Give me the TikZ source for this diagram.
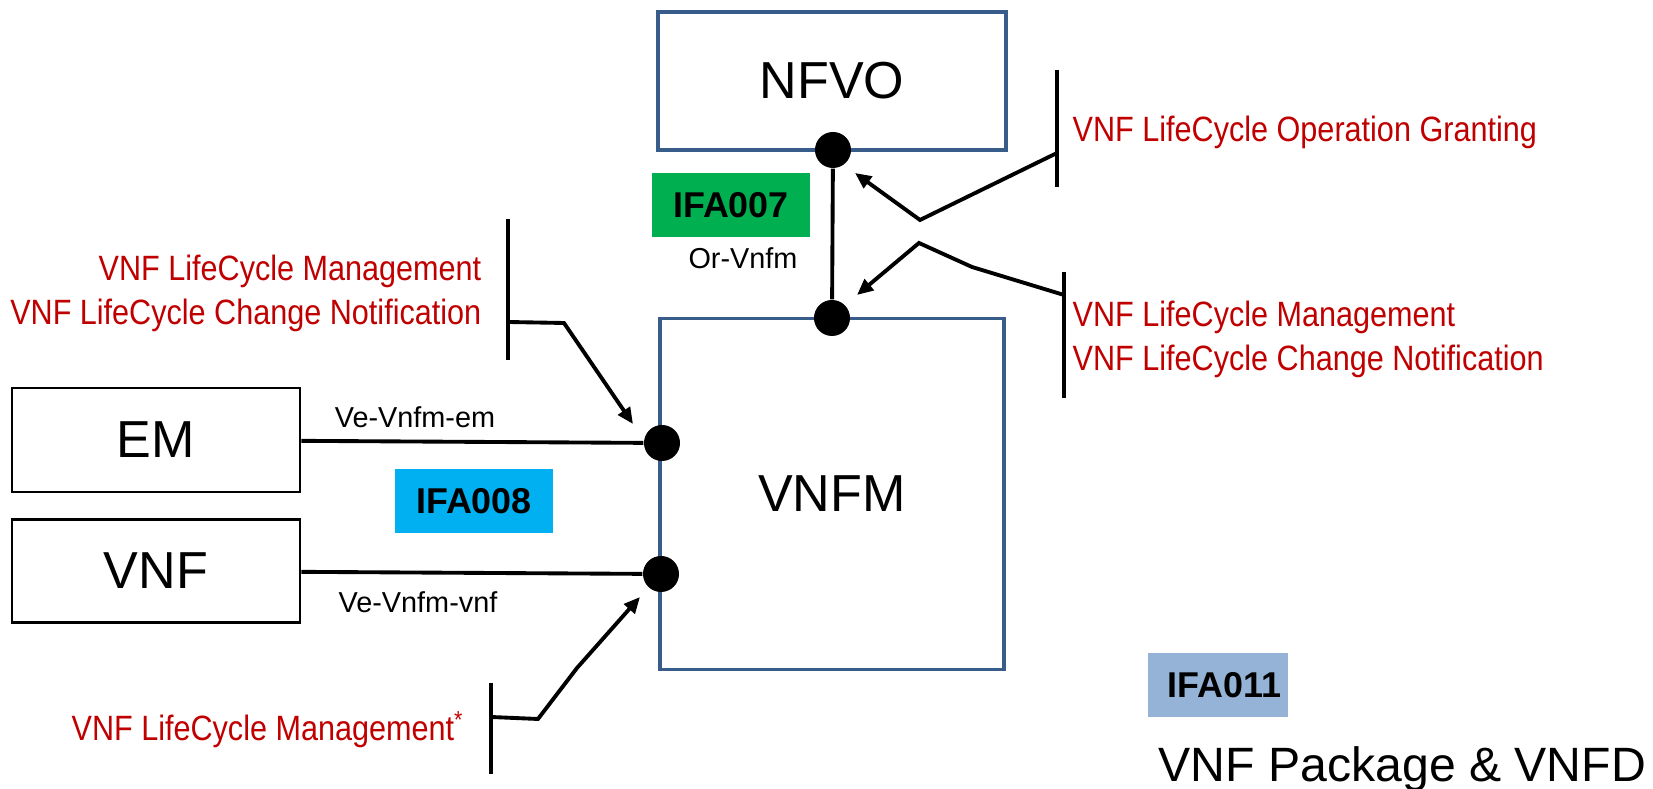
\documentclass[tikz,border=0pt]{standalone}
\usepackage{fontspec}
\setmainfont{Liberation Sans}
\newfontfamily\narrowfont[FakeStretch=0.87]{Liberation Sans}
\usetikzlibrary{arrows.meta}
\definecolor{boxblue}{HTML}{385D8A}
\definecolor{opred}{HTML}{C00000}
\definecolor{ifagreen}{HTML}{00B050}
\definecolor{ifacyan}{HTML}{00B0F0}
\definecolor{ifablue}{HTML}{95B3D7}
\tikzset{
  block/.style={draw=boxblue,line width=1pt,inner sep=0pt,font=\fontsize{14.8pt}{17pt}\selectfont},
  plainblock/.style={draw=black,line width=0.75pt,inner sep=0pt,font=\fontsize{14.8pt}{17pt}\selectfont},
  portdot/.style={circle,fill=black,inner sep=0pt,minimum size=0.36cm},
  ifa/.style={inner sep=0pt,minimum width=1.58cm,minimum height=0.64cm,font=\bfseries\fontsize{10.2pt}{12pt}\selectfont},
  iface/.style={inner sep=0pt,font=\fontsize{8.2pt}{10pt}\selectfont},
  opnote/.style={inner sep=0pt,text=opred,font=\narrowfont\fontsize{10pt}{12.5pt}\selectfont},
  tbar/.style={line width=0.9pt},
  link/.style={line width=1.1pt},
  feed/.style={line width=1.1pt,-{Triangle[length=4.6pt,width=4pt]}}
}
\begin{document}
\begin{tikzpicture}[x=0.01cm,y=-0.01cm]
\useasboundingbox (0,0) rectangle (1653,789);
\node (nfvo) at (832,81) [block][minimum width=3.48cm,minimum height=1.38cm]{NFVO};
\node (vnfm) at (832,494) [block][minimum width=3.44cm,minimum height=3.51cm]{VNFM};
\node (em) at (156,440) [plainblock][minimum width=2.88cm,minimum height=1.04cm]{EM};
\node (vnf) at (156,571) [plainblock][minimum width=2.88cm,minimum height=1.03cm]{VNF};
\node (nfvodot) at (833,150) [portdot]{};
\node (vnfmdot) at (832,318) [portdot]{};
\node (emdot) at (662,443) [portdot]{};
\node (vnfdot) at (661,574) [portdot]{};
\draw [link] (nfvodot) -- (vnfmdot);
\draw [link] (em) -- (emdot);
\draw [link] (vnf) -- (vnfdot);
\node (ifa007) at (731,205) [ifa][fill=ifagreen]{IFA007};
\node (ifa008) at (474,501) [ifa][fill=ifacyan]{IFA008};
\node (ifa011) at (1218,685) [ifa][fill=ifablue][minimum width=1.40cm,text width=1.0cm,inner xsep=0.2cm,align=left]{IFA011};
\node (ornfm) at (743,258) [iface]{Or-Vnfm};
\node (veem) at (415,417) [iface]{Ve-Vnfm-em};
\node (vevnf) at (418,602) [iface]{Ve-Vnfm-vnf};
\node (pkg) at (1158,782) [anchor=base west][inner sep=0pt][font=\fontsize{13.7pt}{16pt}\selectfont]{VNF Package \& VNFD};
\coordinate (granttop) at (1057,70);
\coordinate (grantbot) at (1057,187);
\coordinate (grantjoin) at (1057,153);
\coordinate (grantbend) at (920,220);
\coordinate (granttip) at (855,173);
\node (grant) at (1072,142) [opnote][anchor=base west]{VNF LifeCycle Operation Granting};
\draw [tbar] (granttop) -- (grantbot);
\draw [feed] (grantjoin) -- (grantbend) -- (granttip);
\coordinate (lcmtop) at (1064,272);
\coordinate (lcmbot) at (1064,398);
\coordinate (lcmjoin) at (1064,295);
\coordinate (lcmkink) at (972,267);
\coordinate (lcmbend) at (919,243);
\coordinate (lcmtip) at (857,295);
\node (lcm) at (1072,339) [opnote][anchor=west][align=left]{VNF LifeCycle Management\\VNF LifeCycle Change Notification};
\draw [tbar] (lcmtop) -- (lcmbot);
\draw [feed] (lcmjoin) -- (lcmkink) -- (lcmbend) -- (lcmtip);
\coordinate (emlcmtop) at (508,219);
\coordinate (emlcmbot) at (508,360);
\coordinate (emlcmjoin) at (508,322);
\coordinate (emlcmkink) at (564,323);
\coordinate (emlcmtip) at (633,424);
\node (emlcm) at (482,293) [opnote][anchor=east][align=right]{VNF LifeCycle Management\\VNF LifeCycle Change Notification};
\draw [tbar] (emlcmtop) -- (emlcmbot);
\draw [feed] (emlcmjoin) -- (emlcmkink) -- (emlcmtip);
\coordinate (vnflcmtop) at (491,683);
\coordinate (vnflcmbot) at (491,774);
\coordinate (vnflcmjoin) at (491,717);
\coordinate (vnflcmkink) at (538,719);
\coordinate (vnflcmbend) at (577,668);
\coordinate (vnflcmtip) at (640,597);
\node (vnflcm) at (465,741) [opnote][anchor=base east]{VNF LifeCycle Management\textsuperscript{*}};
\draw [tbar] (vnflcmtop) -- (vnflcmbot);
\draw [feed] (vnflcmjoin) -- (vnflcmkink) -- (vnflcmbend) -- (vnflcmtip);
\end{tikzpicture}
\end{document}
